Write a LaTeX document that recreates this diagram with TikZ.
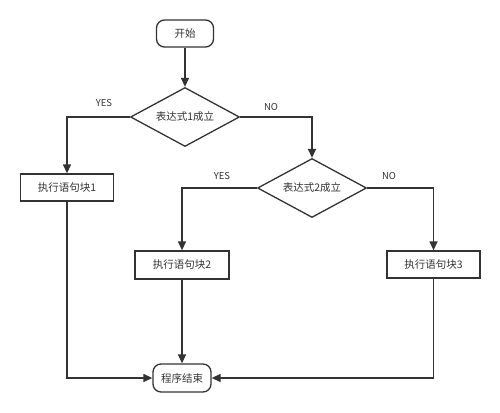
\documentclass[tikz,border=0pt]{standalone}
\usepackage{fontspec}
\setmainfont{Noto Sans CJK SC}
\usetikzlibrary{shapes.geometric,arrows.meta}
\definecolor{ink}{HTML}{333333}
\begin{document}
\begin{tikzpicture}[x=1pt,y=-1pt,
  every node/.style={text=ink,font=\fontsize{10.5}{12}\selectfont},
  term/.style={draw=ink,line width=1.3pt,rounded corners=8pt,minimum width=57pt,minimum height=27pt,inner sep=0pt},
  proc/.style={draw=ink,line width=1.3pt,minimum width=93pt,minimum height=27pt,inner sep=0pt},
  cond/.style={draw=ink,line width=1.3pt,diamond,shape aspect=1.85,minimum width=109pt,minimum height=59pt,inner sep=0pt},
  lbl/.style={font=\fontsize{9.5}{11}\selectfont,inner sep=0pt},
  conn/.style={draw=ink,line width=1.3pt,-{Triangle[length=9pt,width=8pt]}}]
\useasboundingbox (0,0) rectangle (500,412);
\node[term] (start) at (185,33.5) {开始};
\node[cond] (d1) at (185,117) {表达式1成立};
\node[cond] (d2) at (312,188) {表达式2成立};
\node[proc] (b1) at (67,187.5) {执行语句块1};
\node[proc,minimum width=94pt,minimum height=28pt] (b2) at (182,265) {执行语句块2};
\node[proc] (b3) at (433.5,264.5) {执行语句块3};
\node[term,minimum width=58pt,minimum height=28pt] (end) at (182,378) {程序结束};
\node[lbl] (y1) at (104,103) {YES};
\node[lbl] (n1) at (271,107) {NO};
\node[lbl] (y2) at (222,176) {YES};
\node[lbl] (n2) at (389,176) {NO};
\draw[conn] (start) -- (d1);
\draw[conn] (d1.west) -| (b1.north);
\draw[conn] (d1.east) -| (d2.north);
\draw[conn] (d2.west) -| (b2.north);
\draw[conn] (d2.east) -| (b3.north);
\draw[conn] (b2) -- (end);
\draw[conn] (b1.south) |- (end.west);
\draw[conn] (b3.south) |- (end.east);
\end{tikzpicture}
\end{document}
